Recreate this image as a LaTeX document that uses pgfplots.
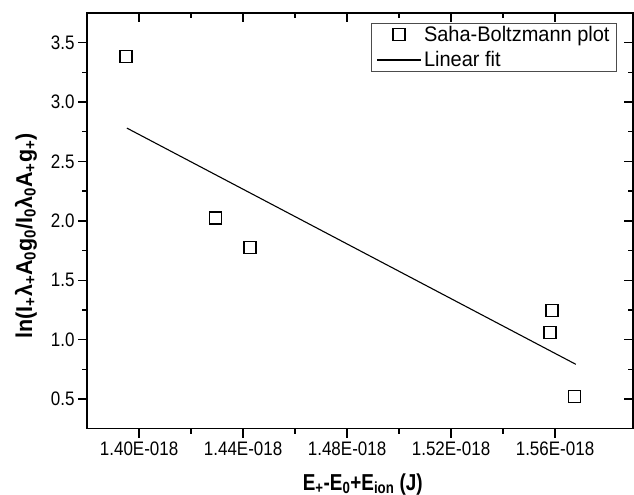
\documentclass[border=0pt]{standalone}
\usepackage{fontspec}
\usepackage{graphicx}
\setmainfont{Liberation Sans}[FakeStretch=0.87]
\newfontfamily\legfont{Liberation Sans}[FakeStretch=0.95]
\newfontfamily\ylfont{Liberation Sans}
\newfontfamily\xlfont{Liberation Sans}[FakeStretch=0.82]
\usepackage{pgfplots}
\pgfplotsset{compat=1.18}
\pgfplotsset{
  marklegend/.style={legend image code/.code={\draw[##1] plot coordinates {(21.5pt,0pt)};}},
  linelegend/.style={legend image code/.code={\draw[##1] (0pt,0pt) -- (44pt,0pt);}},
}
\begin{document}
\begin{tikzpicture}
\useasboundingbox (-87pt,-66pt) rectangle (546pt,428pt);
\pgfplotsset{common/.style={
  scale only axis, width=545pt, height=415pt,
  xmin=1.38, xmax=1.59, ymin=0.25, ymax=3.75,
  xtick={1.40,1.44,1.48,1.52,1.56},
  ytick={0.5,1.0,1.5,2.0,2.5,3.0,3.5},
  minor x tick num=1, minor y tick num=1,
  major tick length=9pt, minor tick length=5pt,
  axis line style={line width=1.6pt, black},
  tick style={line width=1.4pt, black},
}}
\begin{axis}[common,
  tick align=outside, xtick pos=lower, ytick pos=left,
  xticklabels={1.40E-018,1.44E-018,1.48E-018,1.52E-018,1.56E-018},
  /pgf/number format/assume math mode=true,
  yticklabel style={/pgf/number format/fixed, /pgf/number format/precision=1, /pgf/number format/fixed zerofill},
  ticklabel style={font=\fontsize{19.5}{22}\selectfont},
  xticklabel style={yshift=-1pt},
  xlabel={\textbf{E\textsubscript{+}-E\textsubscript{0}+E\textsubscript{ion} (J)}},
  ylabel={\resizebox*{205pt}{22pt}{\ylfont\fontsize{20}{24}\selectfont\textbf{ln(I\textsubscript{+}λ\textsubscript{+}A\textsubscript{0}g\textsubscript{0}/I\textsubscript{0}λ\textsubscript{0}A\textsubscript{+}g\textsubscript{+})}}},
  xlabel style={font=\xlfont\fontsize{23}{26}\selectfont, at={(axis description cs:0.505,-0.148)}, anchor=base},
  ylabel style={at={(axis description cs:-0.112,0.464)}, anchor=center, rotate=0},
  legend style={at={(axis description cs:0.9706,0.976)}, anchor=north east, draw=black!70, line width=0.8pt,
    font=\legfont\fontsize{21}{24}\selectfont, inner xsep=5pt, inner ysep=1pt, row sep=4.5pt, cells={anchor=west}},
  legend cell align=left,
]
\addplot[only marks, mark=square, mark size=6pt, line width=1.3pt, black, marklegend]
  coordinates {
  (1.3950,3.382) (1.4295,2.025) (1.4427,1.775)
  (1.5588,1.247) (1.5581,1.062) (1.5676,0.520)
  };
\addlegendentry{Saha-Boltzmann plot}
\addplot[no marks, black, line width=1.1pt, linelegend]
  coordinates {(1.3953,2.781) (1.5680,0.792)};
\addlegendentry{Linear fit}
\end{axis}
\begin{axis}[common,
  tick align=inside, xtick pos=upper, ytick pos=right,
  xticklabels={}, yticklabels={}, axis line style={draw=none}]
\end{axis}
\end{tikzpicture}
\end{document}
